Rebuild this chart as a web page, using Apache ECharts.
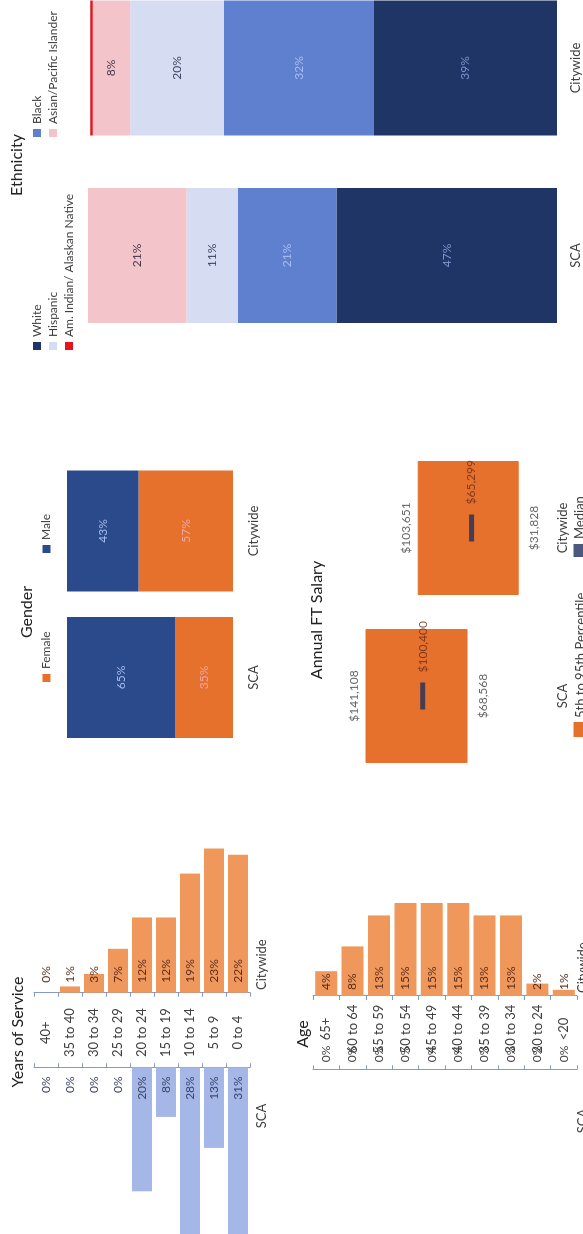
<!DOCTYPE html>
<html>
<head>
<meta charset="utf-8">
<script src="https://cdn.jsdelivr.net/npm/echarts@6/dist/echarts.min.js"></script>
<style>
  html, body { margin: 0; padding: 0; background: #fff; overflow: hidden; width: 583px; height: 1234px; }
  /* the dashboard is laid out landscape and turned a quarter turn */
  #page { position: absolute; left: 0; top: 0; width: 1234px; height: 583px;
          transform-origin: 0 0; transform: translate(0, 1234px) rotate(-90deg); }
</style>
</head>
<body>
<div id="page"></div>
<script>
// ---- data ----
const sides = ['SCA', 'Citywide'];

const serviceBands = ['40+', '35 to 40', '30 to 34', '25 to 29', '20 to 24', '15 to 19', '10 to 14', '5 to 9', '0 to 4'];
const serviceSCA = [0, 0, 0, 0, 20, 8, 28, 13, 31];
const serviceCity = [0, 1, 3, 7, 12, 12, 19, 23, 22];

const ageBands = ['65+', '60 to 64', '55 to 59', '50 to 54', '45 to 49', '40 to 44', '35 to 39', '30 to 34', '20 to 24', '<20'];
const ageSCA = [0, 0, 0, 0, 0, 0, 0, 0, 0, 0];
const ageCity = [4, 8, 13, 15, 15, 15, 13, 13, 2, 1];

const genderFemale = [35, 57];
const genderMale = [65, 43];

const salaryP5 = [68568, 31828];
const salaryP95 = [141108, 103651];
const salaryMedian = [100400, 65299];

const ethWhite = [47, 39];
const ethBlack = [21, 32];
const ethHispanic = [11, 20];
const ethAsian = [21, 8];
const ethAmIndian = [0, 0.5];

// ---- styling ----
const FONT = 'Lato, "Open Sans", sans-serif';
const TXT = '#404040';
const AXIS = '#8797c9';
const BAR_ORANGE = '#F0985C';
const BAR_BLUE = '#A5B7E7';
const DEEP_ORANGE = '#E5712D';
const GENDER_NAVY = '#2B4A8B';
const MED_NAVY = '#1E2F5E';
const money = v => '$' + Number(v).toLocaleString('en-US');
const pct = p => p.value + '%';

const chart = echarts.init(document.getElementById('page'), null, { width: 1234, height: 583, renderer: 'canvas' });

function catAxis(grid, data, pos, labelOpt) {
  return {
    type: 'category', gridIndex: grid, data: data, inverse: true, position: pos,
    axisLine: { show: true, lineStyle: { color: AXIS, width: 1 } },
    axisTick: { show: true, length: 4, lineStyle: { color: AXIS } },
    axisLabel: labelOpt
  };
}
const bandLabel = margin => ({ show: true, interval: 0, margin: margin, align: 'center',
  fontSize: 13, color: TXT, fontFamily: FONT });
const sideAxis = (grid, margin) => ({
  type: 'category', gridIndex: grid, data: sides,
  axisLine: { show: false }, axisTick: { show: false }, splitLine: { show: false },
  axisLabel: { margin: margin, fontSize: 13, color: TXT, fontFamily: FONT }
});
const hiddenValue = (grid, min, max, extra) => Object.assign({ type: 'value', gridIndex: grid, min: min, max: max, show: false }, extra || {});

const legendBase = { padding: 0, icon: 'rect', itemWidth: 8, itemHeight: 8,
  textStyle: { fontSize: 12, color: TXT, fontFamily: FONT }, selectedMode: false };

const option = {
  backgroundColor: '#ffffff',
  animation: false,
  textStyle: { fontFamily: FONT },
  grid: [
    { left: 0, top: 34, width: 166.7, height: 216, outerBoundsMode: 'none' },      // service, SCA side
    { left: 241.3, top: 34, width: 188, height: 216, outerBoundsMode: 'none' },    // service, citywide side
    { left: 0, top: 313, width: 164.7, height: 264, outerBoundsMode: 'none' },     // age, SCA side
    { left: 238, top: 313, width: 188, height: 264, outerBoundsMode: 'none' },     // age, citywide side
    { left: 483.25, top: 67, width: 293, height: 166, outerBoundsMode: 'none' },   // gender
    { left: 454, top: 284, width: 336, height: 264.6, outerBoundsMode: 'none' },   // salary
    { left: 884.75, top: 88, width: 375, height: 469, outerBoundsMode: 'none' }    // ethnicity
  ],
  xAxis: [
    hiddenValue(0, 0, 166.7 / 6.2, { inverse: true }),
    hiddenValue(1, 0, 188 / 6.27),
    hiddenValue(2, 0, 164.7 / 6.2, { inverse: true }),
    hiddenValue(3, 0, 188 / 6.2),
    sideAxis(4, 14),
    sideAxis(5, 8),
    sideAxis(6, 12)
  ],
  yAxis: [
    catAxis(0, serviceBands, 'right', { show: false }),
    catAxis(1, serviceBands, 'left', bandLabel(40)),
    catAxis(2, ageBands, 'right', { show: false }),
    catAxis(3, ageBands, 'left', bandLabel(33)),
    hiddenValue(4, 0, 100),
    hiddenValue(5, 10000, 200000),
    hiddenValue(6, 0, 100)
  ],
  legend: [
    Object.assign({}, legendBase, { data: ['Female'], left: 552, top: 40.5 }),
    Object.assign({}, legendBase, { data: ['Male'], left: 681, top: 40.5 }),
    Object.assign({}, legendBase, { orient: 'vertical', itemGap: 4, left: 884, top: 31,
      data: ['White', 'Hispanic', 'Am. Indian/ Alaskan Native'] }),
    Object.assign({}, legendBase, { orient: 'vertical', itemGap: 4, left: 1097, top: 31,
      data: ['Black', 'Asian/Pacific Islander'] }),
    Object.assign({}, legendBase, { itemWidth: 13, itemHeight: 13, left: 497, top: 573.5,
      textStyle: { fontSize: 13, color: TXT, fontFamily: FONT },
      data: [{ name: '5th to 95th Percentile', itemStyle: { color: DEEP_ORANGE } }] }),
    Object.assign({}, legendBase, { itemWidth: 13, itemHeight: 13, left: 677, top: 573.5,
      textStyle: { fontSize: 13, color: TXT, fontFamily: FONT },
      data: [{ name: 'Median', itemStyle: { color: MED_NAVY } }] })
  ],
  graphic: [
    { type: 'text', x: 202, y: 18, style: { text: 'Years of Service', font: '16px ' + FONT, fill: '#222', align: 'center', verticalAlign: 'middle' } },
    { type: 'text', x: 200, y: 303, style: { text: 'Age', font: '16px ' + FONT, fill: '#222', align: 'center', verticalAlign: 'middle' } },
    { type: 'text', x: 622, y: 27, style: { text: 'Gender', font: '16px ' + FONT, fill: '#222', align: 'center', verticalAlign: 'middle' } },
    { type: 'text', x: 614, y: 317, style: { text: 'Annual FT Salary', font: '16px ' + FONT, fill: '#222', align: 'center', verticalAlign: 'middle' } },
    { type: 'text', x: 1069, y: 17, style: { text: 'Ethnicity', font: '16px ' + FONT, fill: '#222', align: 'center', verticalAlign: 'middle' } },
    { type: 'text', x: 118, y: 262, style: { text: 'SCA', font: '13px ' + FONT, fill: TXT, align: 'center', verticalAlign: 'middle' } },
    { type: 'text', x: 244, y: 262, style: { text: 'Citywide', font: '13px ' + FONT, fill: TXT, align: 'left', verticalAlign: 'middle' } },
    { type: 'text', x: 113, y: 583, style: { text: 'SCA', font: '13px ' + FONT, fill: TXT, align: 'center', verticalAlign: 'middle' } },
    { type: 'text', x: 241, y: 583, style: { text: 'Citywide', font: '13px ' + FONT, fill: TXT, align: 'left', verticalAlign: 'middle' } }
  ],
  series: [
    // Years of Service
    { type: 'bar', name: 'Service SCA', xAxisIndex: 0, yAxisIndex: 0, data: serviceSCA, barWidth: 20,
      itemStyle: { color: BAR_BLUE },
      label: { show: true, position: 'insideRight', distance: 9, formatter: pct, fontSize: 12, color: '#3b4262', fontFamily: FONT } },
    { type: 'bar', name: 'Service Citywide', xAxisIndex: 1, yAxisIndex: 1, data: serviceCity, barWidth: 20,
      itemStyle: { color: BAR_ORANGE },
      label: { show: true, position: 'insideLeft', distance: 10, formatter: pct, fontSize: 12, color: '#5a2c1c', fontFamily: FONT } },
    // Age
    { type: 'bar', name: 'Age SCA', xAxisIndex: 2, yAxisIndex: 2, data: ageSCA, barWidth: 22,
      itemStyle: { color: BAR_BLUE },
      label: { show: true, position: 'right', distance: 7, formatter: pct, fontSize: 12, color: TXT, fontFamily: FONT } },
    { type: 'bar', name: 'Age Citywide', xAxisIndex: 3, yAxisIndex: 3, data: ageCity, barWidth: 22,
      itemStyle: { color: BAR_ORANGE },
      label: { show: true, position: 'insideLeft', distance: 6, formatter: pct, fontSize: 12, color: '#5a2c1c', fontFamily: FONT } },
    // Gender
    { type: 'bar', name: 'Female', xAxisIndex: 4, yAxisIndex: 4, stack: 'gender', data: genderFemale, barWidth: 121,
      itemStyle: { color: DEEP_ORANGE },
      label: { show: true, position: 'inside', formatter: pct, fontSize: 12, color: '#f3a6a0', fontFamily: FONT } },
    { type: 'bar', name: 'Male', xAxisIndex: 4, yAxisIndex: 4, stack: 'gender', data: genderMale, barWidth: 121,
      itemStyle: { color: GENDER_NAVY },
      label: { show: true, position: 'inside', formatter: pct, fontSize: 12, color: '#a6bbe8', fontFamily: FONT } },
    // Salary: 5th–95th percentile box, median tick, end labels
    { type: 'candlestick', name: '5th to 95th Percentile', xAxisIndex: 5, yAxisIndex: 5, barWidth: 134,
      data: salaryP5.map((lo, i) => [lo, salaryP95[i], lo, salaryP95[i]]),
      itemStyle: { color: DEEP_ORANGE, color0: DEEP_ORANGE, borderColor: DEEP_ORANGE, borderColor0: DEEP_ORANGE, borderWidth: 1 } },
    { type: 'scatter', name: 'Median', xAxisIndex: 5, yAxisIndex: 5, z: 5,
      data: salaryMedian.map((v, i) => [sides[i], v]),
      symbol: 'rect', symbolSize: [27, 5], itemStyle: { color: MED_NAVY },
      label: { show: true, position: 'right', distance: 10, formatter: p => money(p.value[1]), fontSize: 12, color: '#6a2a18', fontFamily: FONT } },
    { type: 'scatter', name: 'p95', xAxisIndex: 5, yAxisIndex: 5, z: 5,
      data: salaryP95.map((v, i) => [sides[i], v]),
      symbolSize: 0.1, itemStyle: { color: 'rgba(0,0,0,0)' },
      label: { show: true, position: 'top', distance: 6, formatter: p => money(p.value[1]), fontSize: 12, color: TXT, fontFamily: FONT } },
    { type: 'scatter', name: 'p5', xAxisIndex: 5, yAxisIndex: 5, z: 5,
      data: salaryP5.map((v, i) => [sides[i], v]),
      symbolSize: 0.1, itemStyle: { color: 'rgba(0,0,0,0)' },
      label: { show: true, position: 'bottom', distance: 10, formatter: p => money(p.value[1]), fontSize: 12, color: TXT, fontFamily: FONT } },
    // Ethnicity (stacked from the bottom up)
    { type: 'bar', name: 'White', xAxisIndex: 6, yAxisIndex: 6, stack: 'eth', data: ethWhite, barWidth: 135,
      itemStyle: { color: '#1F3566' },
      label: { show: true, position: 'inside', formatter: pct, fontSize: 12, color: '#7d93cd', fontFamily: FONT } },
    { type: 'bar', name: 'Black', xAxisIndex: 6, yAxisIndex: 6, stack: 'eth', data: ethBlack, barWidth: 135,
      itemStyle: { color: '#5E80CF' },
      label: { show: true, position: 'inside', formatter: pct, fontSize: 12, color: '#a9bdf0', fontFamily: FONT } },
    { type: 'bar', name: 'Hispanic', xAxisIndex: 6, yAxisIndex: 6, stack: 'eth', data: ethHispanic, barWidth: 135,
      itemStyle: { color: '#D6DCF1' },
      label: { show: true, position: 'inside', formatter: pct, fontSize: 12, color: '#3e4460', fontFamily: FONT } },
    { type: 'bar', name: 'Asian/Pacific Islander', xAxisIndex: 6, yAxisIndex: 6, stack: 'eth', data: ethAsian, barWidth: 135,
      itemStyle: { color: '#F3C5CB' },
      label: { show: true, position: 'inside', formatter: pct, fontSize: 12, color: '#45394a', fontFamily: FONT } },
    { type: 'bar', name: 'Am. Indian/ Alaskan Native', xAxisIndex: 6, yAxisIndex: 6, stack: 'eth', data: ethAmIndian, barWidth: 135,
      itemStyle: { color: '#E3141E' }, label: { show: false } }
  ]
};

chart.setOption(option);
</script>
</body>
</html>
